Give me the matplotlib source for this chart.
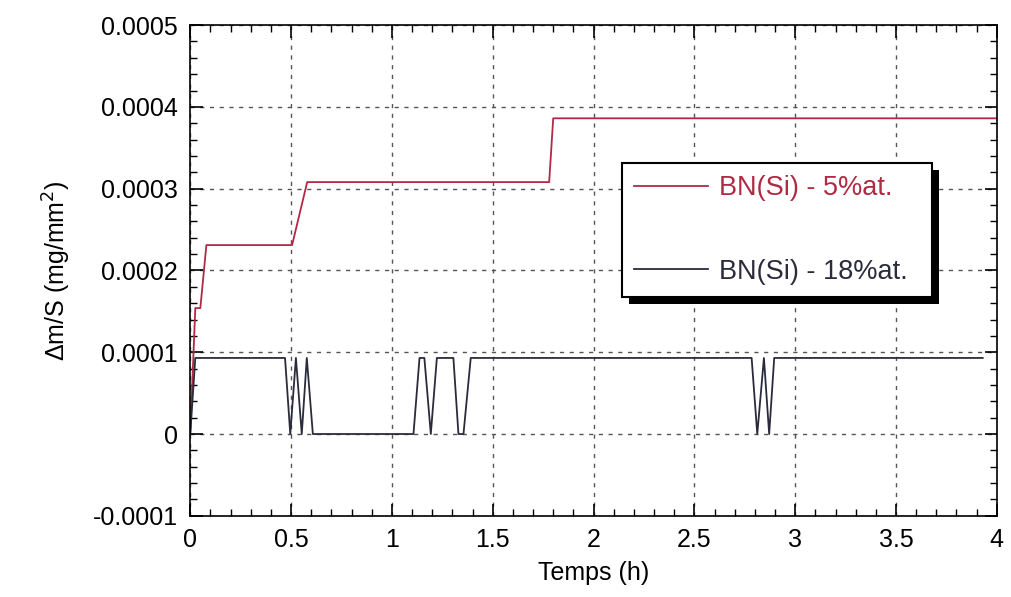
import numpy as np
import matplotlib.pyplot as plt
from matplotlib.ticker import MultipleLocator, FuncFormatter
import matplotlib.patheffects as pe

# BN(Si) - 5%at. (red curve)
t_5 = [0.0, 0.025, 0.05, 0.08, 0.505, 0.58, 1.78, 1.80, 4.0]
m_5 = [0.0, 0.000154, 0.000154, 0.000231, 0.000231, 0.000308, 0.000308, 0.000386, 0.000386]

# BN(Si) - 18%at. (black curve)
t_18 = [0.0, 0.025, 0.47, 0.496, 0.524, 0.553, 0.578, 0.608, 1.107, 1.137, 1.161,
        1.193, 1.223, 1.305, 1.330, 1.355, 1.391, 2.784, 2.812, 2.845, 2.871,
        2.896, 3.93]
m_18 = [0.0, 0.000093, 0.000093, 0.0, 0.000093, 0.0, 0.000093, 0.0, 0.0, 0.000093,
        0.000093, 0.0, 0.000093, 0.000093, 0.0, 0.0, 0.000093, 0.000093, 0.0,
        0.000093, 0.0, 0.000093, 0.000093]

red = '#b02a45'
dark = '#2b2b3d'

plt.rcParams['font.family'] = 'Liberation Sans'
fig = plt.figure(figsize=(10.12, 5.97), dpi=100)
ax = fig.add_axes([0.188, 0.136, 0.797, 0.822])

ax.plot(t_5, m_5, color=red, lw=1.3, label='BN(Si) - 5%at.')
ax.plot(t_18, m_18, color=dark, lw=1.3, label='BN(Si) - 18%at.')

ax.set_xlim(0, 4)
ax.set_ylim(-0.0001, 0.0005)
ax.xaxis.set_major_locator(MultipleLocator(0.5))
ax.xaxis.set_minor_locator(MultipleLocator(0.1))
ax.yaxis.set_major_locator(MultipleLocator(0.0001))
ax.yaxis.set_minor_locator(MultipleLocator(0.00002))


def fmt(v, pos):
    if abs(v) < 1e-12:
        return '0'
    return ('%.4f' % v)


ax.yaxis.set_major_formatter(FuncFormatter(fmt))
ax.xaxis.set_major_formatter(FuncFormatter(lambda v, p: '%g' % v))
ax.tick_params(which='both', direction='in', top=True, right=True, labelsize=18)
ax.tick_params(which='major', length=9, width=1.2, pad=9)
ax.tick_params(which='minor', length=5, width=1.0)
ax.grid(True, which='major', color='#555555', ls=(0, (3, 4)), lw=1.0)
for s in ax.spines.values():
    s.set_linewidth(1.2)

ax.set_xlabel('Temps (h)', fontsize=18, labelpad=6)
ax.set_ylabel('Δm/S (mg/mm$^2$)', fontsize=18, labelpad=14)

# legend box: expand to a fixed width, text left aligned after the handle
leg = ax.legend(loc='upper left', bbox_to_anchor=(0.535, 0.419, 0.385, 0.3),
                mode='expand', borderaxespad=0,
                fontsize=19.5, handlelength=2.75, handletextpad=0.4, labelspacing=2.12,
                borderpad=0.45, fancybox=False, frameon=True, shadow=False)
frame = leg.get_frame()
frame.set_edgecolor('black')
frame.set_linewidth(1.5)
frame.set_alpha(1)
frame.set_path_effects([pe.SimplePatchShadow(offset=(5, -5), shadow_rgbFace='black', alpha=1),
                        pe.Normal()])
leg.get_texts()[0].set_color(red)
leg.get_texts()[1].set_color(dark)

plt.savefig('out.png', dpi=100)
